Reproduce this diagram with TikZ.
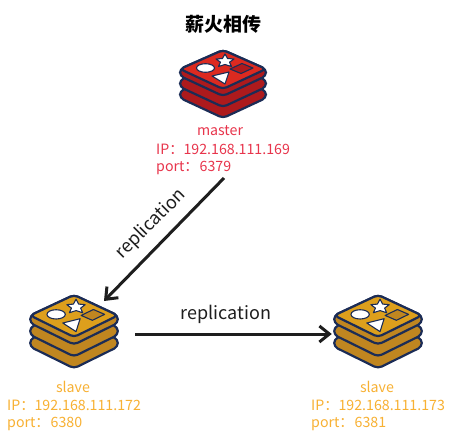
\documentclass[tikz,border=0pt]{standalone}
\usepackage{fontspec}
\setmainfont{Noto Sans CJK SC}
\usetikzlibrary{arrows.meta,shapes.geometric}
\definecolor{navy}{HTML}{1B2C56}
\definecolor{redtop}{HTML}{DC2A20}
\definecolor{redside}{HTML}{AD1A1D}
\definecolor{goldtop}{HTML}{DD9F1C}
\definecolor{goldside}{HTML}{C08620}
\definecolor{mastertext}{HTML}{E8354C}
\definecolor{slavetext}{HTML}{F8B133}
\definecolor{arrowink}{HTML}{1E1E1E}
\tikzset{
  layer/.style={draw=navy,line width=2.2pt,rounded corners=4pt,line join=round},
  infotext/.style={inner sep=0pt,font=\fontsize{14.2}{14.2}\selectfont,anchor=west},
  infohead/.style={inner sep=0pt,font=\fontsize{14.2}{14.2}\selectfont,anchor=center},
  repltext/.style={inner sep=0pt,text=arrowink,font=\fontsize{18}{18}\selectfont},
  linkarrow/.style={draw=arrowink,line width=3pt,-{Straight Barb[length=10pt,width=16pt,line width=3pt]}},
  logobox/.style={inner sep=0pt,minimum width=88pt,minimum height=72pt},
  pics/redislogo/.style n args={2}{code={
    \fill[#2,layer] (-43,40) -- (-43,47) -- (0,67) -- (43,47) -- (43,40) -- (0,21) -- cycle;
    \fill[#2,layer] (-43,29) -- (-43,36) -- (0,56) -- (43,36) -- (43,29) -- (0,10) -- cycle;
    \fill[#2,layer] (-43,18) -- (-43,25) -- (0,45) -- (43,25) -- (43,18) -- (0,-1) -- cycle;
    \fill[#1,layer] (-43,18) -- (0,38) -- (43,18) -- (0,-1) -- cycle;
    \fill[white,draw=navy,line width=1.1pt] (-17.5,17) ellipse [x radius=9,y radius=4.3];
    \fill[white,draw=navy,line width=1.1pt,line join=round] (2,3) -- (4.6,7.5) -- (11,8) -- (6.5,11.2) -- (8.5,15.5) -- (2,13.5) -- (-4.5,15.5) -- (-2.5,11.2) -- (-7,8) -- (-0.6,7.5) -- cycle;
    \fill[#2,draw=navy,line width=1.1pt,line join=round] (7,18) -- (19,12.5) -- (30,17) -- (18,22.5) -- cycle;
    \fill[white,draw=navy,line width=1.1pt,line join=round] (-11,25) -- (6,21) -- (2,33) -- cycle;
  }}
}
\begin{document}
\begin{tikzpicture}[x=1pt,y=-1pt]
\useasboundingbox (0,0) rectangle (453,445);
\fill[white] (0,0) rectangle (453,445);
\node[inner sep=0pt,font=\fontsize{19}{19}\selectfont\bfseries] (title) at (223,24) {薪火相传};
\pic at (223,51) {redislogo={redtop}{redside}};
\pic[xscale=1.02,yscale=1.08] at (74,296) {redislogo={goldtop}{goldside}};
\pic[xscale=1.02,yscale=1.08] at (378,296) {redislogo={goldtop}{goldside}};
\node[logobox] (slaveA) at (74,332) {};
\node[logobox] (slaveB) at (378,332) {};
\node[infohead,text=mastertext] (masterName) at (220,131) {master};
\node[infotext,text=mastertext] (masterIP) at (156,149) {IP：192.168.111.169};
\node[infotext,text=mastertext] (masterPort) at (156,168) {port：\hspace{1pt}6379};
\node[infohead,text=slavetext] (slaveAName) at (73,387) {slave};
\node[infotext,text=slavetext] (slaveAIP) at (7,405) {IP：192.168.111.172};
\node[infotext,text=slavetext] (slaveAPort) at (7,424) {port：\hspace{1pt}6380};
\node[infohead,text=slavetext] (slaveBName) at (377,387) {slave};
\node[infotext,text=slavetext] (slaveBIP) at (311,405) {IP：192.168.111.173};
\node[infotext,text=slavetext] (slaveBPort) at (311,424) {port：\hspace{1pt}6381};
\coordinate (masterOut) at (224,178);
\coordinate (slaveAIn) at (104,301);
\draw[linkarrow] (masterOut) -- (slaveAIn);
\draw[linkarrow,shorten <=17pt,shorten >=2pt] (slaveA.east |- 0,334) -- (slaveB.west |- 0,334);
\node[repltext,rotate=45] (replA) at (151,224) {replication};
\node[repltext] (replB) at (226,314) {replication};
\end{tikzpicture}
\end{document}
